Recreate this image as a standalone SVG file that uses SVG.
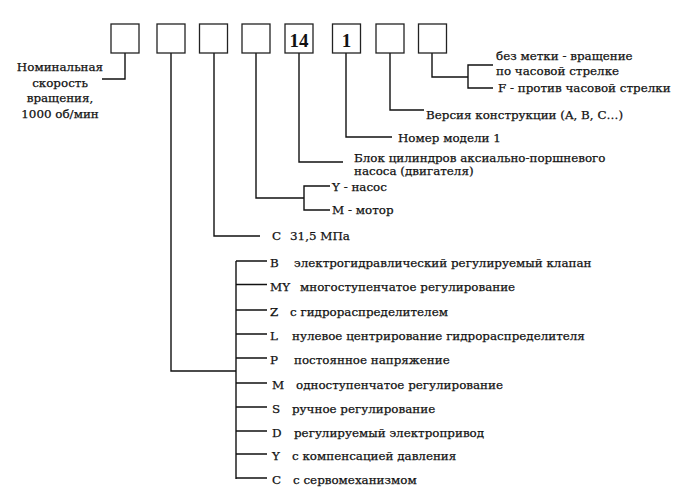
<svg xmlns="http://www.w3.org/2000/svg" width="689" height="502" viewBox="0 0 689 502">
<style>
.bx{fill:#fff;stroke:#222;stroke-width:1.3}
.ln{fill:none;stroke:#111;stroke-width:1.4}
text{font-family:"DejaVu Serif","Liberation Serif",serif;font-size:11.9px;fill:#111;stroke:#111;stroke-width:0.25}
.c{text-anchor:middle}
.num{font-family:"Liberation Serif","DejaVu Serif",serif;font-size:19px;font-weight:bold;text-anchor:middle;stroke:none}
</style>
<rect width="689" height="502" fill="#fff"/>
<g id="connectors">
<polyline class="ln" points="125,53 125,79 102,79"/>
<polyline class="ln" points="171,53 171,371 236,371"/>
<polyline class="ln" points="214,53 214,236 260,236"/>
<polyline class="ln" points="256,53 256,198 304,198"/>
<polyline class="ln" points="330,186 304,186 304,210 330,210"/>
<polyline class="ln" points="299,53 299,162 343,162"/>
<polyline class="ln" points="346,53 346,137 392,137"/>
<polyline class="ln" points="390,53 390,110 424,110"/>
<polyline class="ln" points="432,53 432,77 468,77"/>
<polyline class="ln" points="493,65 468,65 468,88 493,88"/>
<line class="ln" x1="236" y1="261" x2="236" y2="479"/>
<path class="ln" d="M236,261H267M236,284.5H267M236,310H267M236,334H267M236,358H267M236,383H267M236,407H267M236,431H267M236,454H267M236,478H267"/>
</g>
<g id="box1"><rect class="bx" x="111" y="24" width="28" height="29"/></g>
<g id="box2"><rect class="bx" x="157" y="24" width="28" height="29"/></g>
<g id="box3"><rect class="bx" x="199.5" y="24" width="28" height="29"/></g>
<g id="box4"><rect class="bx" x="242" y="24" width="28" height="29"/></g>
<g id="box5"><rect class="bx" x="285" y="24" width="28" height="29"/><text class="num" x="299" y="47">14</text></g>
<g id="box6"><rect class="bx" x="332.5" y="24" width="28" height="29"/><text class="num" x="346.5" y="47">1</text></g>
<g id="box7"><rect class="bx" x="376" y="24" width="28" height="29"/></g>
<g id="box8"><rect class="bx" x="418.5" y="24" width="28" height="29"/></g>
<g id="speed">
<text class="c" x="60" y="71">Номинальная</text>
<text class="c" x="60" y="87">скорость</text>
<text class="c" x="60" y="102">вращения,</text>
<text class="c" x="60" y="118">1000 об/мин</text>
</g>
<g id="rotation">
<text x="496" y="60">без метки - вращение</text>
<text x="496" y="75">по часовой стрелке</text>
<text x="498" y="92">F - против часовой стрелки</text>
</g>
<g id="version"><text x="426" y="119">Версия конструкции (A, B, C…)</text></g>
<g id="model"><text x="398" y="142">Номер модели 1</text></g>
<g id="block">
<text x="354" y="161.5">Блок цилиндров аксиально-поршневого</text>
<text x="354" y="175">насоса (двигателя)</text>
</g>
<g id="type">
<text x="332" y="191">Y - насос</text>
<text x="332" y="214">M - мотор</text>
</g>
<g id="pressure"><text x="272" y="240">C<tspan x="290">31,5 МПа</tspan></text></g>
<g id="control">
<text x="270" y="267">B<tspan x="294">электрогидравлический регулируемый клапан</tspan></text>
<text x="270" y="290.5">MY<tspan x="300">многоступенчатое регулирование</tspan></text>
<text x="270" y="316">Z<tspan x="290">с гидрораспределителем</tspan></text>
<text x="270" y="340">L<tspan x="292">нулевое центрирование гидрораспределителя</tspan></text>
<text x="270" y="364">P<tspan x="294">постоянное напряжение</tspan></text>
<text x="272" y="389">M<tspan x="296">одноступенчатое регулирование</tspan></text>
<text x="272" y="413">S<tspan x="292">ручное регулирование</tspan></text>
<text x="272" y="437">D<tspan x="294">регулируемый электропривод</tspan></text>
<text x="272" y="460">Y<tspan x="292">с компенсацией давления</tspan></text>
<text x="272" y="484">C<tspan x="293">с сервомеханизмом</tspan></text>
</g>
</svg>
